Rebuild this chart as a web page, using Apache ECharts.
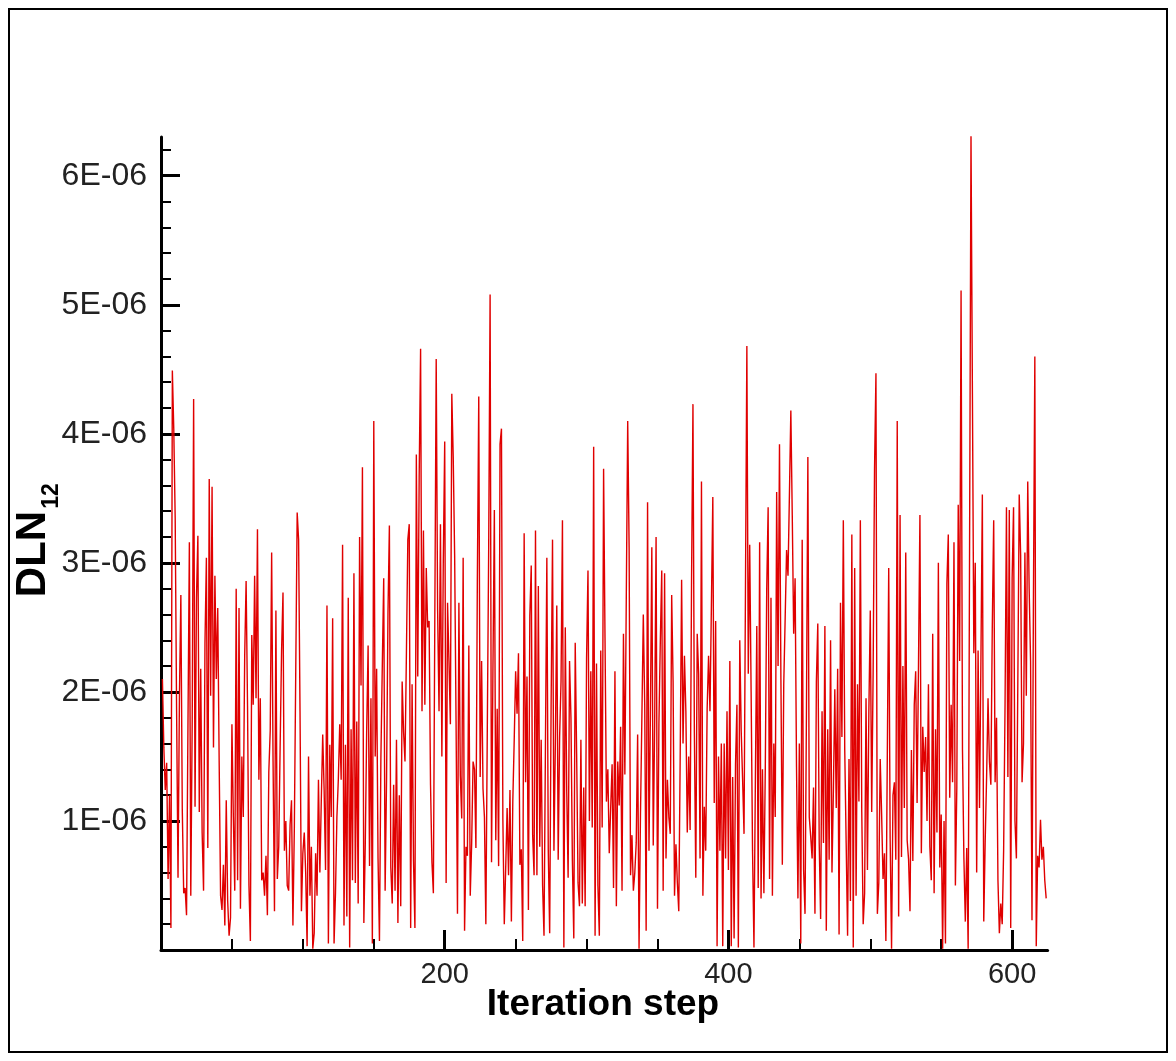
<!DOCTYPE html>
<html>
<head>
<meta charset="utf-8">
<script src="https://cdn.jsdelivr.net/npm/echarts@6/dist/echarts.min.js"></script>
<style>
html,body{margin:0;padding:0;background:#fff;}
#c{width:1176px;height:1061px;}
</style>
</head>
<body>
<div id="c"></div>
<script>
// Iteration numbers start at 1; one value per iteration
const firstIteration = 1;
// DLN12 values, in units of 1E-06
const dln12 = [
// 1-63
2.10,1.57,1.24,1.45,0.55,1.20,0.17,4.49,4.04,3.35,
1.85,0.56,1.97,2.75,1.09,0.44,0.48,0.27,1.73,3.16,
0.42,1.77,4.27,1.11,2.73,3.21,1.07,2.18,0.91,0.46,
2.38,3.04,0.79,3.65,1.97,3.59,1.57,2.90,2.10,2.65,
1.46,0.42,0.31,0.66,0.19,1.16,0.38,0.11,0.25,1.75,
1.03,0.46,2.80,0.54,2.65,0.32,1.50,1.03,2.28,2.86,
1.89,0.50,0.07,
// 64-126
2.44,1.90,2.90,1.95,3.26,1.32,1.95,0.54,0.60,0.42,
0.73,0.27,1.38,1.70,3.08,1.46,0.30,2.63,0.55,0.80,
1.59,2.32,2.77,0.77,1.00,0.50,0.46,0.97,1.16,0.19,
0.95,2.18,3.39,3.18,1.85,0.30,0.75,0.91,0.60,0.03,
1.50,0.42,0.80,0.01,0.13,0.75,0.42,1.32,0.60,1.16,
1.67,1.24,0.62,2.67,0.05,1.59,1.03,2.57,0.05,0.44,
1.03,1.32,1.75,
// 127-190
1.32,3.14,0.19,1.59,0.26,2.73,0.02,1.71,0.54,2.92,
0.52,1.77,0.36,3.20,2.05,3.74,0.21,0.82,1.71,2.36,
0.65,1.95,0.05,4.10,1.50,2.18,0.71,0.07,1.48,2.20,
2.88,0.46,1.32,2.61,3.29,0.64,0.36,1.28,0.46,1.63,
0.21,1.20,0.34,2.08,1.69,1.46,2.30,3.18,3.30,0.17,
2.06,0.69,0.17,3.84,2.12,3.67,4.66,1.85,3.25,1.90,
2.96,2.50,2.55,1.28,
// 191-253
0.68,0.44,2.53,4.58,2.63,1.85,3.30,1.50,3.02,3.94,
0.52,2.69,2.24,1.75,4.31,3.82,3.06,1.77,0.28,2.69,
1.35,1.02,3.04,0.15,0.80,0.73,2.36,0.42,0.83,1.46,
1.40,0.79,2.86,4.29,1.34,2.24,1.25,1.03,0.20,1.68,
3.12,5.08,0.68,2.18,3.41,0.85,1.87,0.65,3.92,4.04,
1.01,0.20,0.64,1.10,0.58,1.24,0.22,1.15,1.63,2.16,
1.83,2.30,0.66,
// 254-317
0.78,0.07,3.23,1.30,2.12,0.31,2.59,2.98,0.89,0.58,
3.25,0.58,2.82,0.80,1.63,0.50,0.11,1.57,3.04,0.77,
0.13,1.89,3.18,0.77,1.60,2.67,0.70,1.65,2.08,3.33,
0.02,2.50,1.24,0.56,2.24,1.80,0.69,0.09,2.38,1.52,
0.52,0.34,1.63,0.36,1.26,0.34,2.26,2.94,1.00,2.16,
0.95,3.90,0.11,2.22,0.50,0.11,2.32,0.95,3.73,2.42,
1.15,1.40,0.75,1.10,
// 318-380
1.44,0.48,2.16,0.34,1.46,1.12,1.73,0.46,2.45,1.36,
2.73,4.10,3.12,0.58,0.89,0.46,0.60,0.83,1.67,0.01,
1.05,1.81,2.60,1.90,0.15,3.47,0.77,1.83,3.12,0.81,
1.75,3.20,0.32,1.75,2.40,2.94,0.46,2.92,0.71,1.32,
1.03,0.90,2.75,2.08,0.42,0.82,0.52,0.30,1.50,2.87,
1.60,2.28,1.85,0.91,1.50,0.93,2.86,4.23,1.68,0.56,
2.45,2.14,0.71,
// 381-444
3.63,0.42,1.11,0.77,1.87,2.28,1.85,2.67,3.51,1.14,
2.55,0.03,1.50,0.77,1.60,0.03,1.60,0.71,1.85,0.62,
2.24,0.03,1.34,0.09,1.44,1.90,0.02,2.40,1.70,1.32,
0.90,2.77,4.68,2.14,3.14,2.00,0.77,0.02,1.32,2.51,
0.48,3.16,0.40,1.40,0.44,1.42,2.80,3.43,0.55,2.73,
0.42,1.60,1.03,3.55,2.20,3.92,2.10,0.66,2.06,2.57,
3.10,2.90,3.53,4.18,
// 445-507
3.37,2.45,2.88,1.42,0.40,1.60,0.05,3.18,0.62,0.28,
1.85,3.82,1.03,0.88,0.71,1.26,0.28,2.08,2.53,0.83,
0.24,1.85,0.83,2.51,0.15,1.71,0.70,2.40,0.60,1.24,
2.02,1.10,2.18,0.12,2.69,1.65,3.33,1.55,0.83,0.11,
1.48,0.38,3.22,0.02,2.96,0.42,2.06,1.15,3.33,1.07,
0.20,0.44,1.95,0.62,1.85,2.63,1.07,2.14,3.73,4.47,
0.28,0.52,1.48,
// 508-571
1.05,0.55,0.75,0.07,1.50,2.96,0.87,0.01,1.20,1.30,
0.70,4.10,0.26,3.37,0.72,2.20,1.10,3.08,0.85,0.70,
0.30,1.55,0.69,1.90,2.16,1.14,2.22,3.37,0.75,1.73,
1.38,1.65,1.00,2.06,0.80,0.54,2.45,0.44,1.71,0.91,
3.00,0.64,1.05,0.01,1.00,0.05,2.84,3.22,1.18,1.90,
1.30,3.16,0.50,1.26,3.45,2.24,5.11,1.55,0.71,0.22,
0.79,0.01,3.14,6.32,
// 572-624
4.31,2.30,3.00,0.60,2.32,1.10,2.26,3.53,0.22,0.84,
1.34,1.95,1.46,1.28,2.50,3.33,1.30,1.80,0.54,0.13,
0.36,0.20,0.77,1.90,3.43,1.34,3.41,0.17,2.88,3.43,
1.00,0.71,2.06,3.53,3.06,1.30,1.60,3.08,1.97,3.63,
2.80,2.24,0.23,2.69,4.60,0.03,0.73,0.64,1.01,0.70,
0.80,0.54,0.40
];

const xMajorTicks = [200, 400, 600];
const xMinorTicks = [50, 100, 150, 250, 300, 350, 450, 500, 550];
const yMajorTicks = [1, 2, 3, 4, 5, 6];
const yMinorTicks = [0.2,0.4,0.6,0.8,1.2,1.4,1.6,1.8,2.2,2.4,2.6,2.8,3.2,3.4,3.6,3.8,4.2,4.4,4.6,4.8,5.2,5.4,5.6,5.8,6.2];
const yLabelSuffix = 'E-06';
const xTitle = 'Iteration step';
const yTitleMain = 'DLN';
const yTitleSub = '12';

const seriesData = dln12.map((v, k) => [firstIteration + k, v]);

const FONT = '"Liberation Sans", Arial, Helvetica, sans-serif';
const chart = echarts.init(document.getElementById('c'), null, {renderer: 'canvas'});

const baseAxis = {
  type: 'value',
  splitLine: {show: false},
  axisPointer: {show: false}
};

chart.setOption({
  animation: false,
  backgroundColor: '#ffffff',
  grid: {left: 161, top: 137, width: 886.6, height: 813, containLabel: false, outerBoundsMode: 'none'},
  xAxis: [
    Object.assign({}, baseAxis, {
      min: 0, max: 625, position: 'bottom',
      axisLine: {show: true, onZero: false, lineStyle: {color: '#000', width: 3}},
      axisTick: {show: true, inside: true, length: 20, customValues: xMajorTicks, lineStyle: {color: '#000', width: 3}},
      axisLabel: {show: true, customValues: xMajorTicks, margin: 10, fontSize: 29, color: '#222', fontFamily: FONT}
    }),
    Object.assign({}, baseAxis, {
      min: 0, max: 625, position: 'bottom',
      axisLine: {show: false},
      axisTick: {show: true, inside: true, length: 11, customValues: xMinorTicks, lineStyle: {color: '#000', width: 2}},
      axisLabel: {show: false}
    })
  ],
  yAxis: [
    Object.assign({}, baseAxis, {
      min: 0, max: 6.3, position: 'left',
      axisLine: {show: true, onZero: false, lineStyle: {color: '#000', width: 3}},
      axisTick: {show: true, inside: true, length: 19, customValues: yMajorTicks, lineStyle: {color: '#000', width: 3}},
      axisLabel: {show: true, customValues: yMajorTicks, margin: 14, fontSize: 32, color: '#222', fontFamily: FONT,
                  formatter: v => v + yLabelSuffix}
    }),
    Object.assign({}, baseAxis, {
      min: 0, max: 6.3, position: 'left', offset: 0,
      axisLine: {show: false},
      axisTick: {show: true, inside: true, length: 10, customValues: yMinorTicks, lineStyle: {color: '#000', width: 2}},
      axisLabel: {show: false}
    })
  ],
  graphic: [
    {type: 'rect', silent: true, z: 100,
     shape: {x: 9, y: 9, width: 1158, height: 1043},
     style: {fill: 'none', stroke: '#000', lineWidth: 2}},
    {type: 'text', silent: true, x: 603, y: 1005,
     style: {text: xTitle, font: 'bold 37px ' + FONT, fill: '#000',
             align: 'center', verticalAlign: 'middle', textAlign: 'center', textVerticalAlign: 'middle'}},
    {type: 'text', silent: true, x: 33, y: 554, rotation: Math.PI / 2,
     style: {text: yTitleMain, font: 'bold 42px ' + FONT, fill: '#000',
             align: 'center', verticalAlign: 'middle', textAlign: 'center', textVerticalAlign: 'middle'}},
    {type: 'text', silent: true, x: 52, y: 496, rotation: Math.PI / 2,
     style: {text: yTitleSub, font: 'bold 23px ' + FONT, fill: '#000',
             align: 'center', verticalAlign: 'middle', textAlign: 'center', textVerticalAlign: 'middle'}}
  ],
  series: [{
    type: 'line',
    xAxisIndex: 0, yAxisIndex: 0,
    data: seriesData,
    showSymbol: false, symbol: 'none',
    sampling: null,
    silent: true,
    lineStyle: {color: '#e00000', width: 1.4}
  }]
});
</script>
</body>
</html>
